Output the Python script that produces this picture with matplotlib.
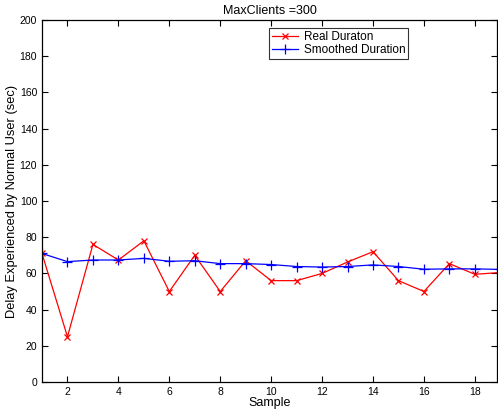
import matplotlib
matplotlib.use("Agg")
import matplotlib.pyplot as plt

samples = list(range(1, 20))
real_duration = [71, 25, 76, 67.4, 78, 50, 70, 50, 67, 56, 56, 60, 66.3, 72,
                 56, 50, 65.4, 59.5, 60.5]
smoothed_duration = [71, 66.5, 67.4, 67.4, 68.3, 66.7, 67, 65.4, 65.4, 64.9,
                     63.8, 63.5, 63.8, 64.7, 63.8, 62.3, 62.5, 62.5, 62.2]
y_ticks = list(range(0, 201, 20))
x_ticks = list(range(2, 19, 2))

plt.rcParams["font.family"] = ["Liberation Sans", "DejaVu Sans"]

W, H = 498, 412
fig = plt.figure(figsize=(W / 100, H / 100), dpi=100)
fig.patch.set_facecolor("white")
ax = fig.add_axes([42 / W, 1 - 382 / H, (497 - 42) / W, (382 - 20) / H])

ax.plot(samples, real_duration, color="red", marker="x", markersize=4.5,
        linewidth=0.9, markeredgewidth=0.9, label="Real Duraton")
ax.plot(samples, smoothed_duration, color="blue", marker="+", markersize=6.5,
        linewidth=0.9, markeredgewidth=0.9, label="Smoothed Duration")

ax.set_xlim(1, 18.87)
ax.set_ylim(0, 200)
ax.set_xticks(x_ticks)
ax.set_yticks(y_ticks)
ax.tick_params(direction="in", top=True, right=True, length=4, width=0.8,
               labelsize=7.5, pad=3.5)
for s in ax.spines.values():
    s.set_linewidth(0.9)

ax.set_title("MaxClients =300", fontsize=9, pad=4)
ax.set_xlabel("Sample", fontsize=9, labelpad=0)
ax.set_ylabel("Delay Experienced by Normal User (sec)", fontsize=9.3, labelpad=1)

leg = ax.legend(loc="upper left", bbox_to_anchor=(269 / W, 1 - 28 / H),
                bbox_transform=fig.transFigure, fontsize=8.5, frameon=True,
                fancybox=False, borderpad=0.25, handlelength=2.2,
                handletextpad=0.5, labelspacing=0.1, borderaxespad=0)
leg.get_frame().set_edgecolor("black")
leg.get_frame().set_linewidth(0.8)

fig.savefig("out.png", dpi=100, facecolor="white")
